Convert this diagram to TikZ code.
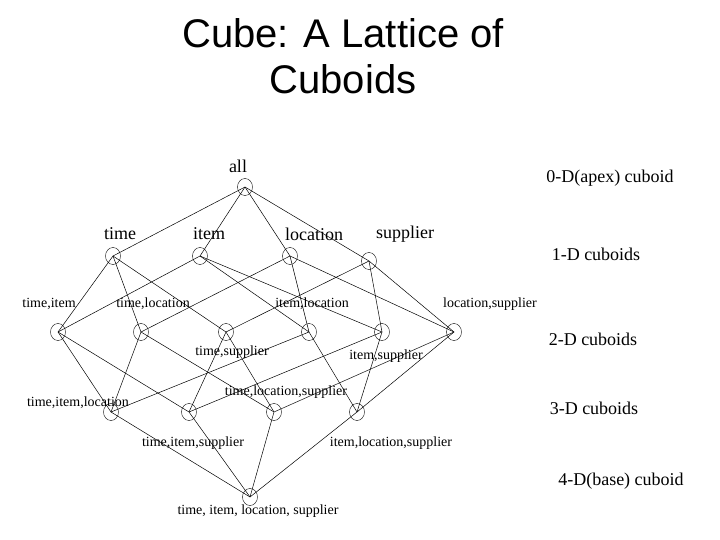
\documentclass[tikz,border=0pt]{standalone}
\usetikzlibrary{shapes.geometric}
\usepackage{fontspec}
\setmainfont{Liberation Serif}
\newfontfamily\titlefont{Liberation Sans}
\begin{document}
\begin{tikzpicture}[x=1pt,y=-1pt,
  cub/.style={draw,ellipse,minimum width=15pt,minimum height=17pt,inner sep=0pt},
  edge/.style={line width=0.5pt},
  big/.style={font=\fontsize{18}{20}\selectfont},
  small/.style={font=\fontsize{14}{16}\selectfont},
  side/.style={font=\fontsize{18}{20}\selectfont}]
\useasboundingbox (0,0) rectangle (720,540);
\node[font=\titlefont\fontsize{40}{46}\selectfont,align=center] (title) at (343,56) {Cube: A Lattice of\\Cuboids};
% nodes
\node[cub] (all) at (245,187) {};
\node[cub] (t) at (113,256) {};
\node[cub] (i) at (200,256) {};
\node[cub] (l) at (290,256) {};
\node[cub] (s) at (369,261) {};
\node[cub] (ti) at (58,332) {};
\node[cub] (tl) at (141,332) {};
\node[cub] (ts) at (226,332) {};
\node[cub] (il) at (309,332) {};
\node[cub] (is) at (382,332) {};
\node[cub] (ls) at (454,332) {};
\node[cub] (til) at (111,412) {};
\node[cub] (tis) at (189,412) {};
\node[cub] (tls) at (274,412) {};
\node[cub] (ils) at (357,412) {};
\node[cub] (tils) at (250,497) {};
% labels
\node[big] (lall) at (238,166) {all};
\node[big] (lt) at (120,234) {time};
\node[big] (li) at (209,234) {item};
\node[big] (ll) at (314,234) {location};
\node[big] (ls1) at (405,234) {supplier};
\node[small] (lti) at (49,304) {time,item};
\node[small] (ltl) at (153,304) {time,location};
\node[small] (lil) at (312,304) {item,location};
\node[small] (lls) at (490,304) {location,supplier};
\node[small] (lts) at (232,352) {time,supplier};
\node[small] (lis) at (386,356) {item,supplier};
\node[small] (ltil) at (78,403) {time,item,location};
\node[small] (ltls) at (286,392) {time,location,supplier};
\node[small] (ltis) at (193,443) {time,item,supplier};
\node[small] (lils) at (391,443) {item,location,supplier};
\node[small] (ltils) at (258,511) {time, item, location, supplier};
\node[side] (s0) at (610,178) {0-D(apex) cuboid};
\node[side] (s1) at (596,254) {1-D cuboids};
\node[side] (s2) at (593,339) {2-D cuboids};
\node[side] (s3) at (594,408) {3-D cuboids};
\node[side] (s4) at (621,481) {4-D(base) cuboid};
% edges
\foreach \a/\b in {all/t,all/i,all/l,all/s,
  t/ti,t/tl,t/ts,i/ti,i/il,i/is,l/tl,l/il,l/ls,s/ts,s/is,s/ls,
  ti/til,ti/tis,tl/til,tl/tls,ts/tis,ts/tls,il/til,il/ils,is/tis,is/ils,ls/tls,ls/ils,
  til/tils,tis/tils,tls/tils,ils/tils}
  \draw[edge] (\a.center) -- (\b.center);
\end{tikzpicture}
\end{document}
